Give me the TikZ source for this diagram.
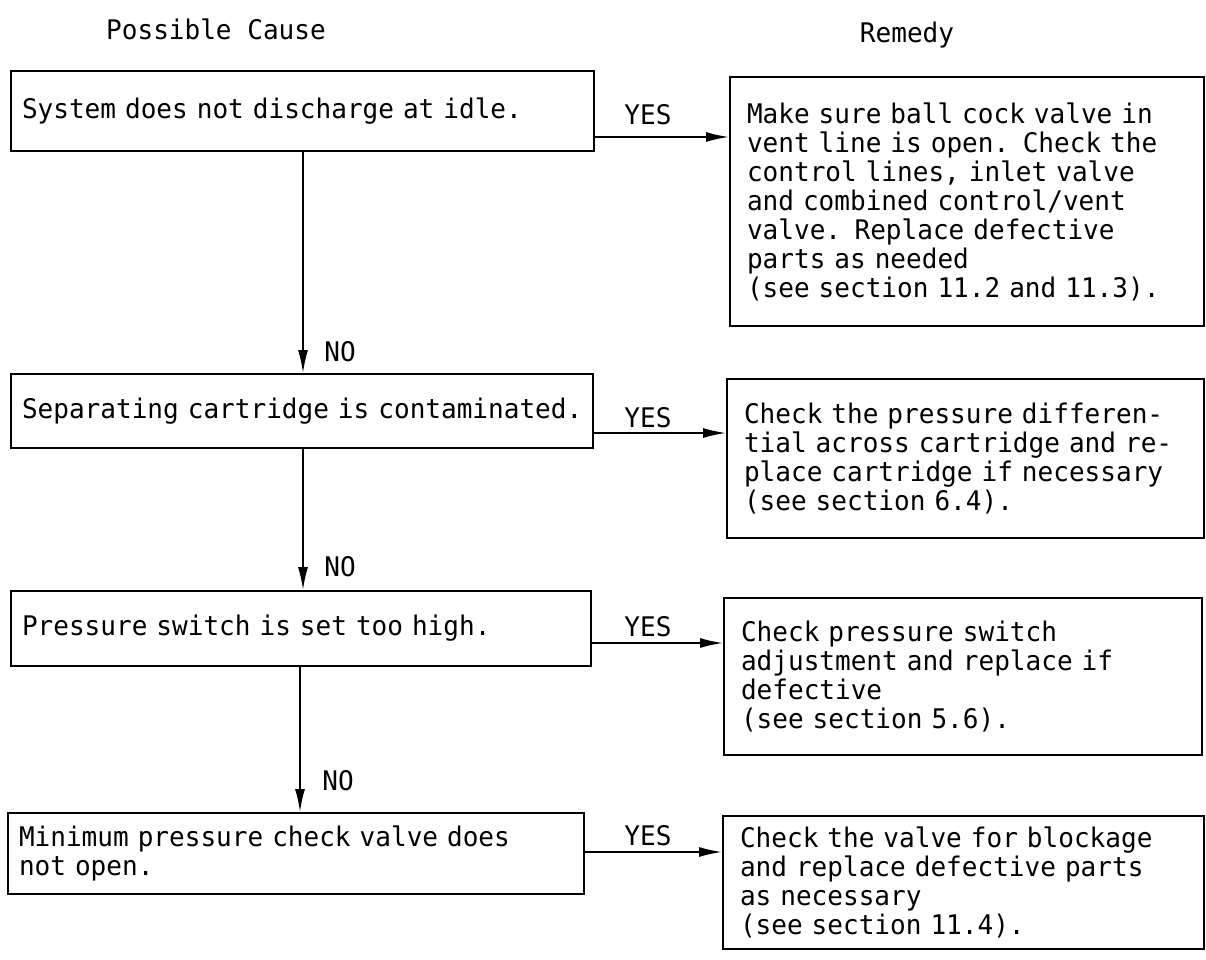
\documentclass[tikz,border=0pt]{standalone}
\usepackage{fontspec}
\newfontfamily\monofam[FakeStretch=0.965]{DejaVu Sans Mono}
\newcommand\monosetup{\monofam\fontsize{27}{29}\selectfont\hyphenpenalty=10000\relax}
\usetikzlibrary{arrows.meta}
\tikzset{
  txt/.style={font=\monosetup},
  causebox/.style={txt, draw, line width=2pt, anchor=north west, inner xsep=11pt, inner ysep=0pt, align=left},
  remedybox/.style={txt, draw, line width=2pt, anchor=north west, inner xsep=17pt, inner ysep=0pt, align=left},
  arr/.style={line width=1.8pt, -{Latex[length=23pt,width=10pt]}},
  lbl/.style={txt, inner sep=0pt}
}
\begin{document}
\begin{tikzpicture}[x=1pt,y=-1pt]
\useasboundingbox (0,0) rectangle (1206,959);
% headings
\node[lbl] (hcause) at (216,29) {Possible Cause};
\node[lbl] (hremedy) at (907,35) {Remedy};
% cause boxes
\node[causebox, minimum width=583pt, minimum height=80pt, text width=561pt] (c1) at (10,70) {\mbox{System does not discharge at idle.}};
\node[causebox, minimum width=582pt, minimum height=74pt, text width=560pt] (c2) at (10,373) {\mbox{Separating cartridge is contaminated.}};
\node[causebox, minimum width=580pt, minimum height=75pt, text width=558pt] (c3) at (10,590) {\mbox{Pressure switch is set too high.}};
\node[causebox, minimum width=576pt, minimum height=81pt, text width=554pt] (c4) at (7,812) {\mbox{Minimum pressure check valve does}\\not open.};
% remedy boxes
\node[remedybox, minimum width=474pt, minimum height=249pt, text width=440pt] (r1) at (729,76) {Make sure ball cock valve in\\vent line is open. Check the\\control lines, inlet valve\\and combined control/vent\\valve. Replace defective\\parts as needed\\(see section 11.2 and 11.3).};
\node[remedybox, minimum width=477pt, minimum height=159pt, text width=443pt] (r2) at (726,378) {Check the pressure differen-\\tial across cartridge and re-\\place cartridge if necessary\\(see section 6.4).};
\node[remedybox, minimum width=478pt, minimum height=157pt, text width=444pt] (r3) at (723,597) {Check pressure switch\\adjustment and replace if\\defective\\(see section 5.6).};
\node[remedybox, minimum width=481pt, minimum height=133pt, text width=447pt] (r4) at (722,815) {Check the valve for blockage\\and replace defective parts\\as necessary\\(see section 11.4).};
% helper coordinates
\coordinate (y1) at (0,137);
\coordinate (y2) at (0,433);
\coordinate (y3) at (0,643);
\coordinate (y4) at (0,852);
\coordinate (xa) at (303,0);
\coordinate (xb) at (300,0);
% YES connectors
\draw[arr] (c1.east |- y1) -- (r1.west |- y1);
\draw[arr] (c2.east |- y2) -- (r2.west |- y2);
\draw[arr] (c3.east |- y3) -- (r3.west |- y3);
\draw[arr] (c4.east |- y4) -- (r4.west |- y4);
\node[lbl] (yes1) at (648,115) {YES};
\node[lbl] (yes2) at (648,418) {YES};
\node[lbl] (yes3) at (648,627) {YES};
\node[lbl] (yes4) at (648,836) {YES};
% NO connectors
\draw[arr] (c1.south -| xa) -- (c2.north -| xa);
\draw[arr] (c2.south -| xa) -- (c3.north -| xa);
\draw[arr] (c3.south -| xb) -- (c4.north -| xb);
\node[lbl] (no1) at (340,352) {NO};
\node[lbl] (no2) at (340,567) {NO};
\node[lbl] (no3) at (338,781) {NO};
\end{tikzpicture}
\end{document}
